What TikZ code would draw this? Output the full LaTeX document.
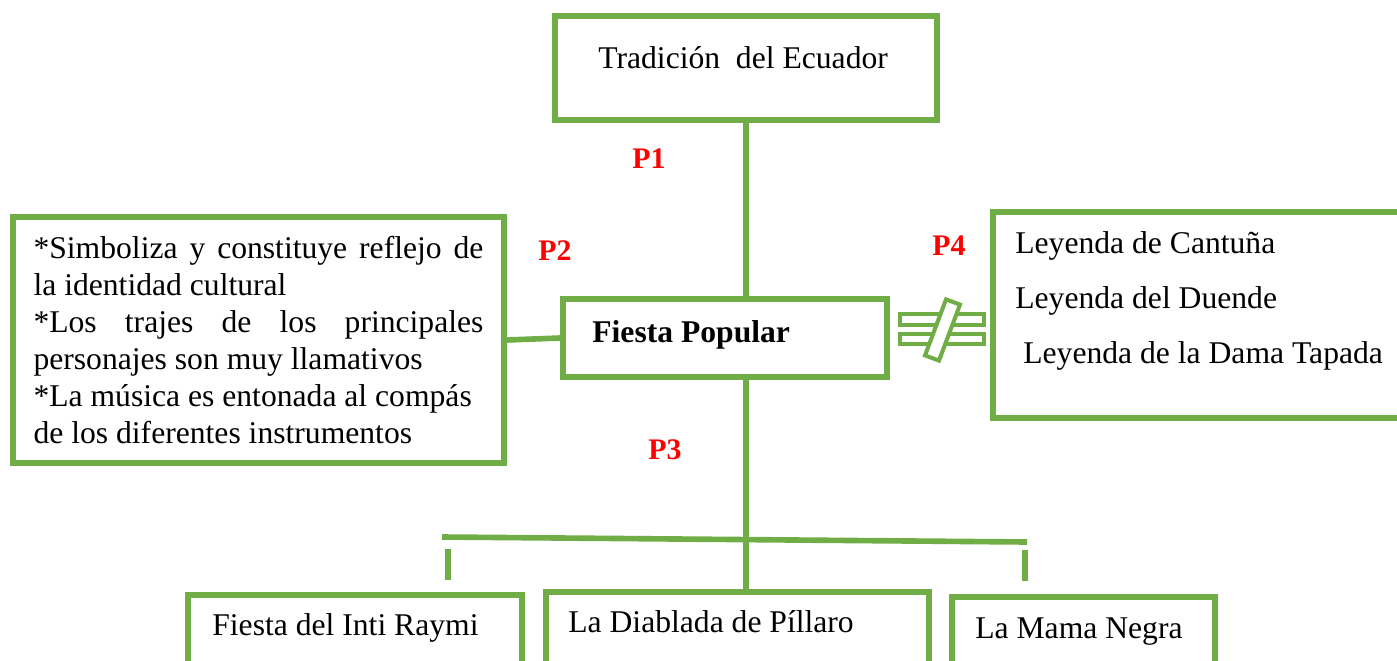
\documentclass[tikz,border=0pt]{standalone}
\usepackage{fontspec}
\setmainfont{Liberation Serif}
\usetikzlibrary{positioning, calc}
\definecolor{verde}{HTML}{70AD47}

\begin{document}
\begin{tikzpicture}[x=0.02cm, y=-0.02cm,
    font=\fontsize{18}{21}\selectfont,
    caja/.style={draw=verde, line width=3.2pt, inner sep=0pt},
    linea/.style={draw=verde, line width=3.2pt},
    texto/.style={anchor=base west, inner sep=0pt},
    etiqueta/.style={anchor=base west, inner sep=0pt, text=red,
                     font=\fontsize{17}{20}\selectfont\bfseries},
    signo/.style={draw=verde, fill=white, line width=2.3pt}]
  \useasboundingbox (0,0) rectangle (1397,660);

  % cajas
  \node[caja, minimum width=7.65cm, minimum height=2.09cm] (tradicion) at (746,68) {};
  \node[caja, minimum width=6.48cm, minimum height=1.56cm] (fiesta) at (725,338) {};
  \node[caja, minimum width=9.82cm, minimum height=4.92cm,
        text width=9cm, align=justify] (simboliza) at (258.5,340)
    {*Simboliza y constituye reflejo de\linebreak
     la identidad cultural\\{}%
     *Los trajes de los principales\linebreak
     personajes son muy llamativos\\{}%
     *La música es entonada al compás\\{}%
     de los diferentes instrumentos};
  \node[caja, minimum width=8.54cm, minimum height=4.12cm] (leyendas) at (1206.5,315) {};
  \node[caja, minimum width=6.68cm, minimum height=2.1cm] (inti) at (355,647.5) {};
  \node[caja, minimum width=7.66cm, minimum height=2.16cm] (diablada) at (737.5,646) {};
  \node[caja, minimum width=5.26cm, minimum height=2.06cm] (mama) at (1083.5,648.5) {};

  % textos
  \node[texto] (tradicion-t) at (598,68) {Tradición\ \ del Ecuador};
  \node[texto, font=\fontsize{18}{21}\selectfont\bfseries] (fiesta-t) at (592,342) {Fiesta Popular};
  \node[texto] (ley-1) at (1015,253) {Leyenda de Cantuña};
  \node[texto] (ley-2) at (1015,308) {Leyenda del Duende};
  \node[texto] (ley-3) at (1023,363) {Leyenda de la Dama Tapada};
  \node[texto] (inti-t) at (212,635) {Fiesta del Inti Raymi};
  \node[texto] (diablada-t) at (568,632) {La Diablada de Píllaro};
  \node[texto] (mama-t) at (975,638) {La Mama Negra};

  % etiquetas
  \node[etiqueta] (p1) at (632,168) {P1};
  \node[etiqueta] (p2) at (538,260) {P2};
  \node[etiqueta] (p3) at (648,459) {P3};
  \node[etiqueta] (p4) at (932,255) {P4};

  % conectores
  \coordinate (barra-izq) at (442,537);
  \coordinate (barra-der) at (1027,542);
  \coordinate (rama-i1) at (448,549);
  \coordinate (rama-i2) at (448,580);
  \coordinate (rama-d1) at (1025,550);
  \coordinate (rama-d2) at (1025,581);
  \draw[linea] (tradicion.south) -- (tradicion.south |- fiesta.north);
  \draw[linea] (tradicion.south |- fiesta.south) -- (tradicion.south |- diablada.north);
  \draw[linea] (simboliza.east) -- (fiesta.west);
  \draw[linea] (barra-izq) -- (barra-der);
  \draw[linea] (rama-i1) -- (rama-i2);
  \draw[linea] (rama-d1) -- (rama-d2);

  % signo distinto
  \draw[signo] (900,314) rectangle (984,325);
  \draw[signo] (900,334) rectangle (984,344);
  \draw[signo] (925,355.4) -- (939,360.6) -- (960,304.6) -- (946,299.4) -- cycle;
\end{tikzpicture}
\end{document}
